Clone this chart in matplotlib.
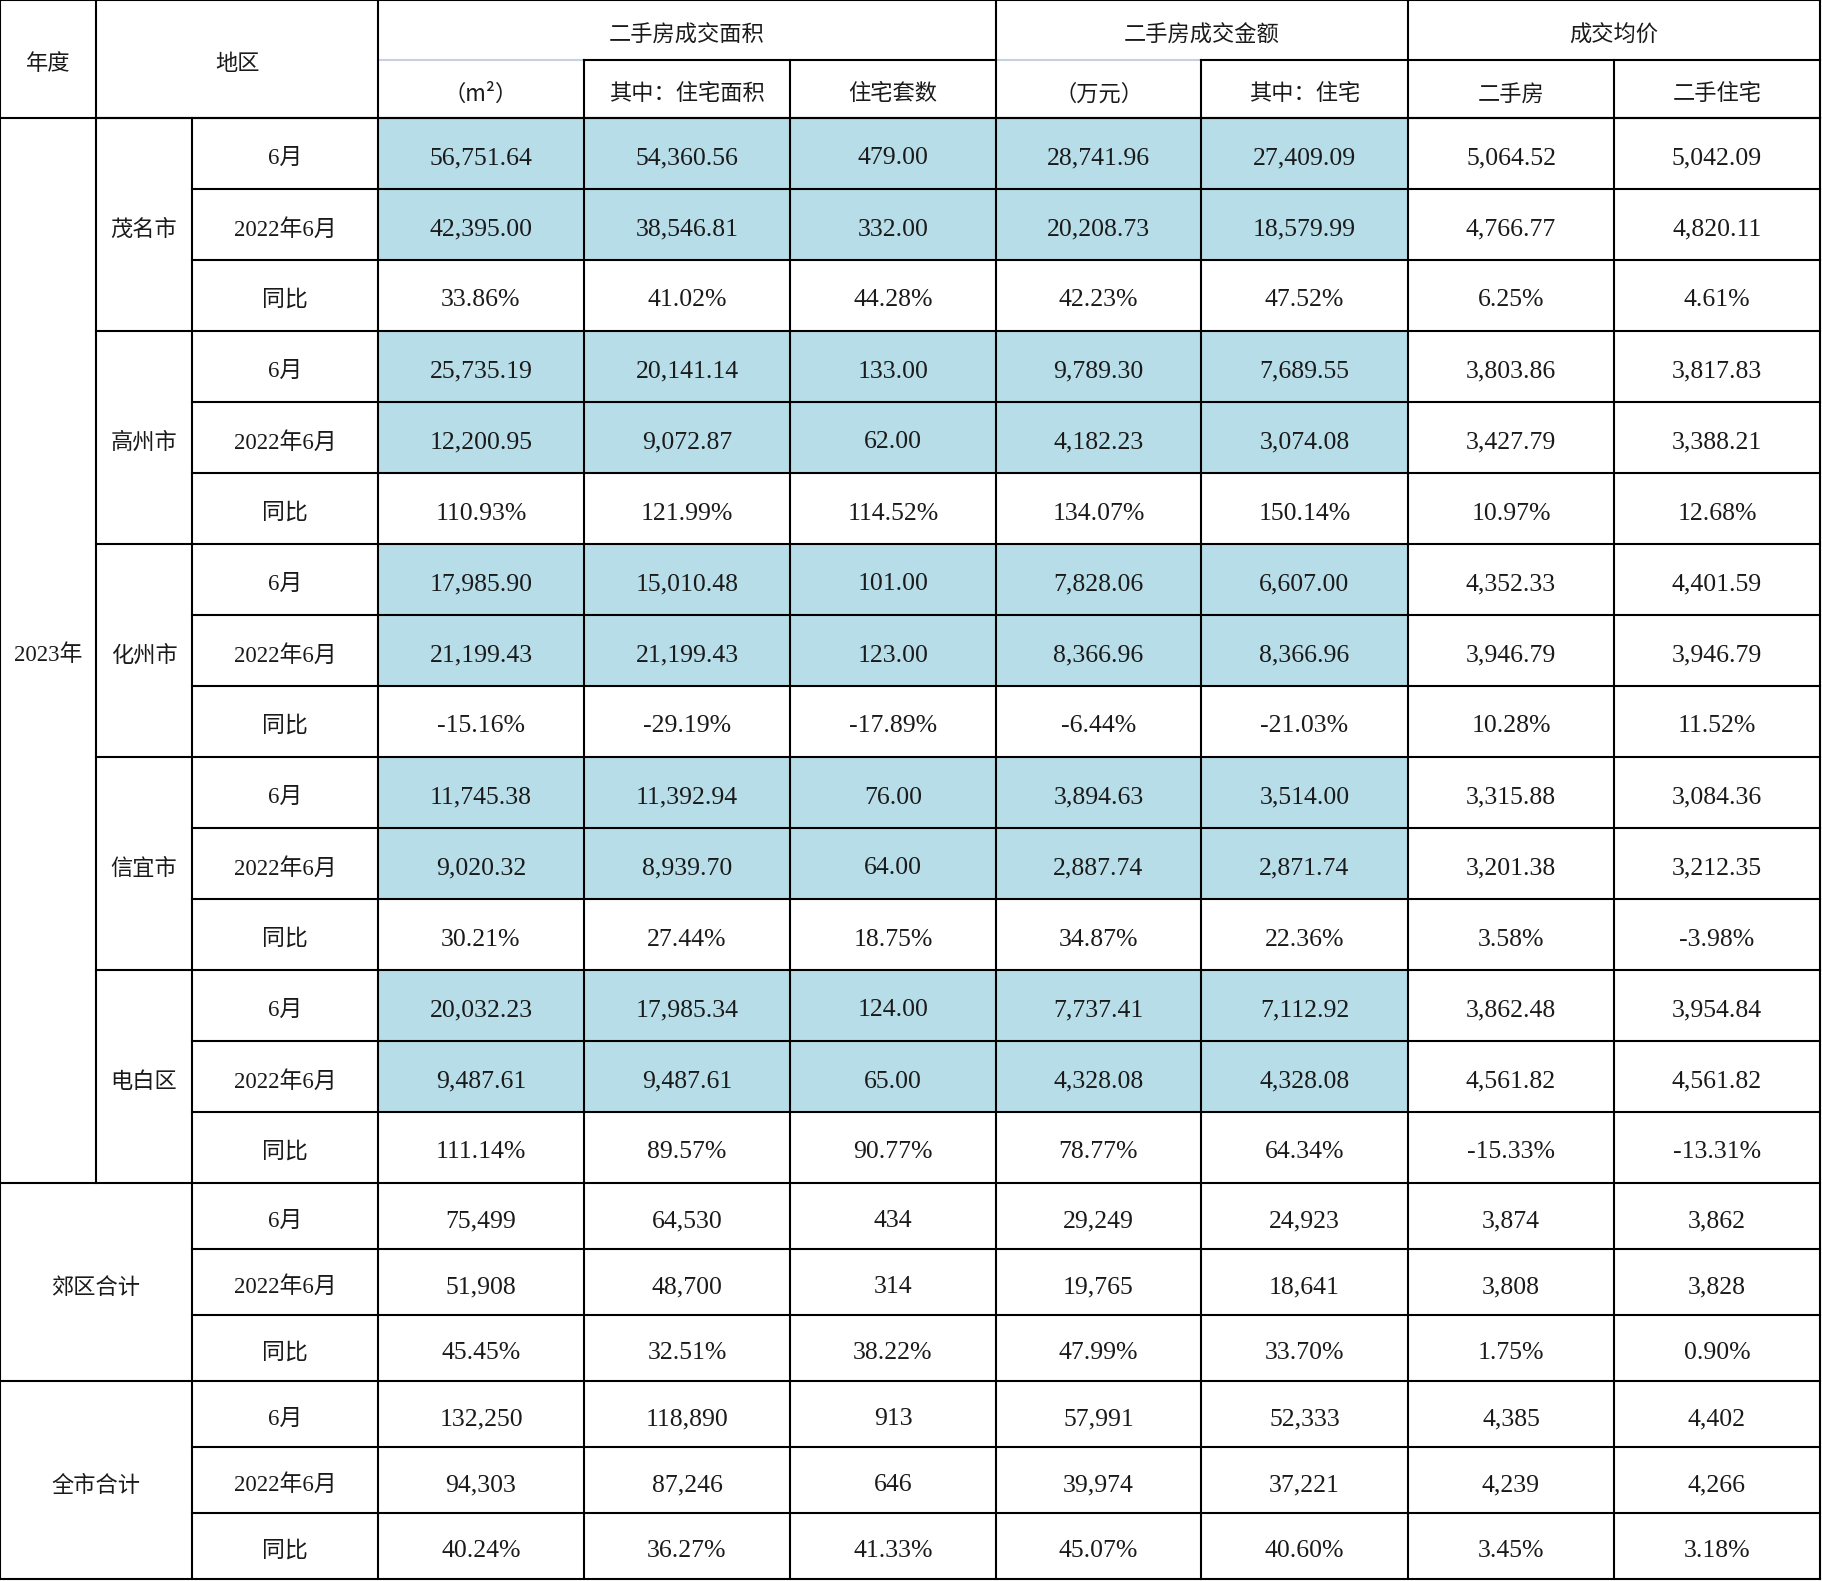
import matplotlib.pyplot as plt
from matplotlib.patches import Rectangle

# 字体：数字用衬线体，中文回退到 Noto Sans CJK
plt.rcParams['font.family'] = ['Liberation Serif', 'Noto Sans CJK SC', 'DejaVu Sans']
CJK = ['Noto Sans CJK SC', 'DejaVu Sans']
NUM = ['Liberation Serif', 'Noto Sans CJK SC']

# 表头
groups = ['二手房成交面积', '二手房成交金额', '成交均价']
sub_headers = ['（m²）', '其中：住宅面积', '住宅套数', '（万元）', '其中：住宅', '二手房', '二手住宅']
periods = ['6月', '2022年6月', '同比']
year_label = '2023年'
cities = ['茂名市', '高州市', '化州市', '信宜市', '电白区']
totals = ['郊区合计', '全市合计']

# 各地区数据：6月 / 2022年6月 / 同比(%)
maoming = [[56751.64, 54360.56, 479.00, 28741.96, 27409.09, 5064.52, 5042.09],
           [42395.00, 38546.81, 332.00, 20208.73, 18579.99, 4766.77, 4820.11],
           [33.86, 41.02, 44.28, 42.23, 47.52, 6.25, 4.61]]
gaozhou = [[25735.19, 20141.14, 133.00, 9789.30, 7689.55, 3803.86, 3817.83],
           [12200.95, 9072.87, 62.00, 4182.23, 3074.08, 3427.79, 3388.21],
           [110.93, 121.99, 114.52, 134.07, 150.14, 10.97, 12.68]]
huazhou = [[17985.90, 15010.48, 101.00, 7828.06, 6607.00, 4352.33, 4401.59],
           [21199.43, 21199.43, 123.00, 8366.96, 8366.96, 3946.79, 3946.79],
           [-15.16, -29.19, -17.89, -6.44, -21.03, 10.28, 11.52]]
xinyi = [[11745.38, 11392.94, 76.00, 3894.63, 3514.00, 3315.88, 3084.36],
         [9020.32, 8939.70, 64.00, 2887.74, 2871.74, 3201.38, 3212.35],
         [30.21, 27.44, 18.75, 34.87, 22.36, 3.58, -3.98]]
dianbai = [[20032.23, 17985.34, 124.00, 7737.41, 7112.92, 3862.48, 3954.84],
           [9487.61, 9487.61, 65.00, 4328.08, 4328.08, 4561.82, 4561.82],
           [111.14, 89.57, 90.77, 78.77, 64.34, -15.33, -13.31]]
suburb_total = [[75499, 64530, 434, 29249, 24923, 3874, 3862],
                [51908, 48700, 314, 19765, 18641, 3808, 3828],
                [45.45, 32.51, 38.22, 47.99, 33.70, 1.75, 0.90]]
city_total = [[132250, 118890, 913, 57991, 52333, 4385, 4402],
              [94303, 87246, 646, 39974, 37221, 4239, 4266],
              [40.24, 36.27, 41.33, 45.07, 40.60, 3.45, 3.18]]
city_data = [maoming, gaozhou, huazhou, xinyi, dianbai]
total_data = [suburb_total, city_total]

# 版式（像素）
col_w = [96, 96, 186, 206, 206, 206, 205, 207, 206, 206]
head_h = [60, 58]
city_row_h = 71
total_row_h = 66
fill_color = '#B7DDE8'
line_color = 'black'
light_line = '#C5D0E0'
txt_color = '#1a1a1a'
lw = 1.5
dy = 5  # 文字略微下移

col_x = [0]
for w in col_w:
    col_x.append(col_x[-1] + w)
W = col_x[-1]

fig = plt.figure(figsize=(18.22, 15.81), dpi=100)
ax = fig.add_axes([0, 0, 1, 1])
ax.set_xlim(0, 1822)
ax.set_ylim(1581, 0)
ax.axis('off')


def cell_text(x0, x1, y0, y1, s, fam=CJK, size=16):
    ax.text((x0 + x1) / 2, (y0 + y1) / 2 + dy, s, ha='center', va='center',
            fontsize=size, family=fam, color=txt_color)


def hline(y, x0, x1, c=line_color):
    ax.plot([x0, x1], [y, y], color=c, lw=lw, solid_capstyle='projecting')


def vline(x, y0, y1, c=line_color):
    ax.plot([x, x], [y0, y1], color=c, lw=lw, solid_capstyle='projecting')


# 表头
y_mid = head_h[0]
y_head = head_h[0] + head_h[1]
cell_text(col_x[0], col_x[1], 0, y_head, '年度')
cell_text(col_x[1], col_x[3], 0, y_head, '地区')
group_span = [(3, 6), (6, 8), (8, 10)]
for g, (a, b) in zip(groups, group_span):
    cell_text(col_x[a], col_x[b], 0, y_mid, g)
for i, s in enumerate(sub_headers):
    cell_text(col_x[3 + i], col_x[4 + i], y_mid, y_head, s)


def fmt(v, kind):
    if kind == 'pct':
        return '{:.2f}%'.format(v)
    if kind == 'dec':
        return '{:,.2f}'.format(v)
    return '{:,.0f}'.format(v)


# 各城市
y = y_head
for name, data in zip(cities, city_data):
    y_start = y
    for r, p in enumerate(periods):
        y0, y1 = y, y + city_row_h
        if r < 2:
            ax.add_patch(Rectangle((col_x[3], y0), col_x[8] - col_x[3], city_row_h,
                                   facecolor=fill_color, edgecolor='none', zorder=0))
        cell_text(col_x[2], col_x[3], y0, y1, p, fam=NUM, size=16.5)
        kind = 'pct' if r == 2 else 'dec'
        for c, v in enumerate(data[r]):
            cell_text(col_x[3 + c], col_x[4 + c], y0, y1, fmt(v, kind), fam=NUM, size=18.5)
        if r > 0:
            hline(y0, col_x[2], W)
        y = y1
    cell_text(col_x[1], col_x[2], y_start, y, name)
    hline(y_start, col_x[1], W)
cell_text(col_x[0], col_x[1], y_head, y, year_label, fam=NUM, size=16.5)
y_city_end = y

# 合计
for name, data in zip(totals, total_data):
    y_start = y
    for r, p in enumerate(periods):
        y0, y1 = y, y + total_row_h
        cell_text(col_x[2], col_x[3], y0, y1, p, fam=NUM, size=16.5)
        kind = 'pct' if r == 2 else 'int'
        for c, v in enumerate(data[r]):
            cell_text(col_x[3 + c], col_x[4 + c], y0, y1, fmt(v, kind), fam=NUM, size=18.5)
        if r > 0:
            hline(y0, col_x[2], W)
        y = y1
    cell_text(col_x[0], col_x[2], y_start, y, name)
    hline(y_start, col_x[0], W)
y_end = y

# 边框线
hline(0, 0, W)
hline(y_head, 0, W)
hline(y_end, 0, W)
hline(y_mid, col_x[3], col_x[4], light_line)
hline(y_mid, col_x[4], col_x[6])
hline(y_mid, col_x[6], col_x[7], light_line)
hline(y_mid, col_x[7], W)
vline(col_x[0], 0, y_end)
vline(col_x[1], 0, y_city_end)
vline(col_x[2], y_head, y_end)
for i in (3, 6, 8, 10):
    vline(col_x[i], 0, y_end)
for i in (4, 5, 7, 9):
    vline(col_x[i], y_mid, y_end)

fig.savefig('out.png', dpi=100)
